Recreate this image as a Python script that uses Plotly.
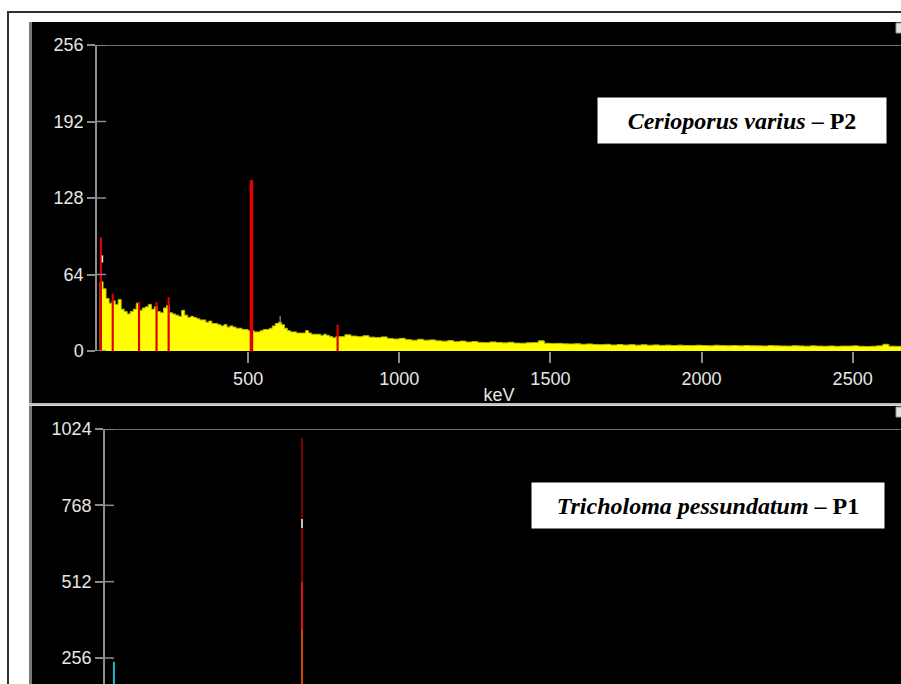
import plotly.graph_objects as go

W, H = 901, 684

# ---------------- data ----------------
# top panel (Cerioporus varius - P2): spectrum, 10 keV channels up to 800 keV
fine_energy_keV = list(range(0, 800, 10))
fine_counts = [0, 58, 52, 44, 40, 42, 39, 43, 35, 33,
               31, 33, 35, 40, 34, 36, 37, 39, 35, 37,
               33, 32, 36, 38, 32, 31, 30, 29, 34, 30,
               28, 29, 28, 27, 26, 26, 24, 25, 23, 23,
               22, 21, 22, 20, 21, 20, 19, 19, 18, 18,
               17, 17, 16, 16, 17, 18, 18, 19, 21, 23,
               24, 22, 19, 17, 16, 16, 15, 15, 15, 17,
               15, 14, 14, 14, 13, 14, 13, 12, 11, 12]
# 20 keV channels from 800 keV
coarse_energy_keV = list(range(800, 2680, 20))
coarse_counts = [12, 13.5, 12.5, 12, 12.8, 11.6, 11.2, 11.8, 10.5, 10,
                 10.6, 9.5, 9, 9.8, 9, 9.3, 8.5, 8.2, 8.7, 7.8,
                 8.3, 7.5, 7.9, 7.2, 7, 7.6, 7.2, 6.8, 7.3, 6.6,
                 6.5, 6.9, 7, 8.5, 6.5, 6.2, 6.4, 6, 5.9, 6.1,
                 5.6, 5.9, 5.5, 5.3, 5.6, 5, 5.4, 5, 5.3, 4.9,
                 5.2, 4.8, 5.1, 4.7, 4.9, 4.6, 4.9, 4.6, 4.5, 4.8,
                 4.6, 4.4, 4.8, 4.5, 4.4, 4.6, 4.3, 4.6, 4.4, 4.3,
                 4.2, 4.5, 4.3, 4.2, 4.1, 4.4, 4.2, 4.0, 4.3, 4.1,
                 4.0, 4.2, 3.9, 4.1, 4.1, 4.3, 3.9, 3.8, 4.0, 4.3,
                 5.6, 4.0, 3.9, 3.8]

roi_energy_keV = [13, 52, 139, 197, 237, 796]
roi_counts = [95, 48, 41, 41, 45, 22]
annihilation_energy_keV = [511]
annihilation_counts = [143]
marker_energy_keV = [606]
marker_counts = [(23, 29)]
cursor_energy_keV = [18]
cursor_counts = [(74, 80)]

top_yticks = [0, 64, 128, 192, 256]
top_xticks = [500, 1000, 1500, 2000, 2500]

# bottom panel (Tricholoma pessundatum - P1)
cs_energy_keV = 662
cs_levels = [0, 350, 511, 692, 722, 994]
xray_energy_keV = 30
xray_counts = 243
bottom_yticks = [256, 512, 768, 1024]

title_top = "<b><i>Cerioporus varius</i> – P2</b>"
title_bottom = "<b><i>Tricholoma pessundatum</i> – P1</b>"

# ---------------- helpers ----------------
def px(x):
    return x / W

def py(y):
    return 1 - y / H

GRAY = "#8c8c8c"
LABEL = "#e6e6e6"

fig = go.Figure()

energy = fine_energy_keV + coarse_energy_keV
counts = fine_counts + coarse_counts
fig.add_trace(go.Scatter(x=energy, y=counts, mode="lines", line_shape="hv",
                         line=dict(color="#b8b800", width=1),
                         fill="tozeroy", fillcolor="#ffff00",
                         xaxis="x", yaxis="y", hoverinfo="skip"))

def segs(xs, ys):
    X, Y = [], []
    for e, c in zip(xs, ys):
        X += [e, e, None]
        Y += [0, c, None]
    return X, Y

def spans(xs, pairs):
    X, Y = [], []
    for e, (a, b) in zip(xs, pairs):
        X += [e, e, None]
        Y += [a, b, None]
    return X, Y

X, Y = segs(roi_energy_keV, roi_counts)
fig.add_trace(go.Scatter(x=X, y=Y, mode="lines", line=dict(color="#e00000", width=2.2),
                         xaxis="x", yaxis="y", hoverinfo="skip"))
X, Y = segs(annihilation_energy_keV, annihilation_counts)
fig.add_trace(go.Scatter(x=X, y=Y, mode="lines", line=dict(color="#e00000", width=3.5),
                         xaxis="x", yaxis="y", hoverinfo="skip"))
X, Y = spans(marker_energy_keV, marker_counts)
fig.add_trace(go.Scatter(x=X, y=Y, mode="lines", line=dict(color="#9a9a9a", width=1.2),
                         xaxis="x", yaxis="y", hoverinfo="skip"))
X, Y = spans(cursor_energy_keV, cursor_counts)
fig.add_trace(go.Scatter(x=X, y=Y, mode="lines", line=dict(color="#e8e8e8", width=1.5),
                         xaxis="x", yaxis="y", hoverinfo="skip"))

# bottom panel
seg_colors = ["#f04a00", "#ff1010", "#9a0000", "#d8d8d8", "#8a0000"]
for i, col in enumerate(seg_colors):
    fig.add_trace(go.Scatter(x=[cs_energy_keV, cs_energy_keV],
                             y=[cs_levels[i], cs_levels[i + 1]],
                             mode="lines", line=dict(color=col, width=1.8),
                             xaxis="x2", yaxis="y2", hoverinfo="skip"))
fig.add_trace(go.Scatter(x=[xray_energy_keV, xray_energy_keV], y=[0, xray_counts],
                         mode="lines", line=dict(color="#1fb8c0", width=2),
                         xaxis="x2", yaxis="y2", hoverinfo="skip"))

tickfont = dict(family="Liberation Sans, Arial, sans-serif", size=18, color=LABEL)

shapes = []
# outer frame
shapes.append(dict(type="rect", xref="paper", yref="paper", x0=px(8), x1=px(910),
                   y0=py(700), y1=py(12), line=dict(color="#303030", width=2),
                   fillcolor="rgba(0,0,0,0)", layer="below"))
# panels
for (y0, y1) in [(22, 403), (406, 700)]:
    shapes.append(dict(type="rect", xref="paper", yref="paper", x0=px(29), x1=px(905),
                       y0=py(y1), y1=py(y0), line=dict(width=0), fillcolor="#000000",
                       layer="below"))
    shapes.append(dict(type="rect", xref="paper", yref="paper", x0=px(29), x1=px(32),
                       y0=py(y1), y1=py(y0), line=dict(width=0), fillcolor="#7a7a7a",
                       layer="below"))
# separator
shapes.append(dict(type="rect", xref="paper", yref="paper", x0=px(29), x1=px(905),
                   y0=py(405.5), y1=py(403), line=dict(width=0), fillcolor="#bdbdbd",
                   layer="below"))
# small corner boxes
for (y0, y1) in [(23, 33), (407, 417)]:
    shapes.append(dict(type="rect", xref="paper", yref="paper", x0=px(896), x1=px(905),
                       y0=py(y1), y1=py(y0), line=dict(color="#9a9a9a", width=1),
                       fillcolor="#e4e4e4"))
# top lines and cross ticks
for xr, yr, top, ticks in [("x", "y", 256, top_yticks), ("x2", "y2", 1024, bottom_yticks)]:
    shapes.append(dict(type="line", xref=xr + " domain", yref=yr, x0=0, x1=1, y0=top, y1=top,
                       line=dict(color=GRAY, width=1.5)))
    for t in ticks:
        shapes.append(dict(type="line", xref=xr, xsizemode="pixel", xanchor=0,
                           x0=-8, x1=9, yref=yr, y0=t, y1=t,
                           line=dict(color=GRAY, width=1.5)))

annotations = [
    dict(text=title_top, xref="paper", yref="paper", x=px(742), y=py(120.5),
         xanchor="center", yanchor="middle", showarrow=False, bgcolor="#ffffff",
         width=288, height=45, borderpad=0,
         font=dict(family="Liberation Serif, Times New Roman, serif", size=24, color="#000000")),
    dict(text=title_bottom, xref="paper", yref="paper", x=px(708), y=py(505),
         xanchor="center", yanchor="middle", showarrow=False, bgcolor="#ffffff",
         width=352, height=45, borderpad=0,
         font=dict(family="Liberation Serif, Times New Roman, serif", size=24, color="#000000")),
]

fig.update_layout(
    template="none",
    width=W, height=H, autosize=False,
    margin=dict(l=0, r=0, t=0, b=0, pad=0, autoexpand=False),
    paper_bgcolor="#ffffff", plot_bgcolor="#000000",
    showlegend=False,
    shapes=shapes, annotations=annotations,
    xaxis=dict(domain=[px(97), 1], range=[0, 2660], anchor="y", automargin=False,
               tickvals=top_xticks, ticks="outside", ticklen=11, tickwidth=1.5,
               tickcolor=GRAY, showline=False, showgrid=False, zeroline=False,
               tickfont=tickfont,
               title=dict(text="keV", font=tickfont, standoff=0)),
    yaxis=dict(domain=[py(351), py(45)], range=[0, 256], anchor="x", automargin=False,
               tickvals=top_yticks, ticks="outside", ticklen=8, tickwidth=1.5,
               tickcolor=GRAY, showline=True, linecolor=GRAY, linewidth=1.5,
               showgrid=False, zeroline=False, tickfont=tickfont),
    xaxis2=dict(domain=[px(105), 1], range=[0, 2675], anchor="y2", visible=False,
                automargin=False),
    yaxis2=dict(domain=[0, py(429)], range=[168.8, 1024], anchor="x2", automargin=False,
                tickvals=bottom_yticks, ticks="outside", ticklen=8, tickwidth=1.5,
                tickcolor=GRAY, showline=True, linecolor=GRAY, linewidth=1.5,
                showgrid=False, zeroline=False, tickfont=tickfont),
)

fig.write_html("out.html")
